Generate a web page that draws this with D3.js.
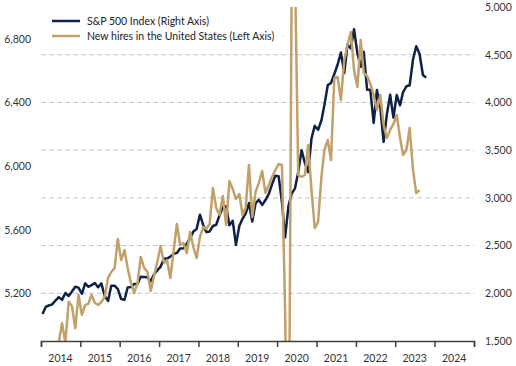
<!DOCTYPE html>
<html>
<head>
<meta charset="utf-8">
<script src="https://cdn.jsdelivr.net/npm/d3@7"></script>
<style>
  body { margin: 0; background: #fff; }
  text { font-family: Lato, "Liberation Sans", sans-serif; }
</style>
</head>
<body>
<svg id="chart" width="516" height="366"></svg>
<script>
// data: monthly, first month Jan 2014
const startYear = 2014;

// S&P 500 month-end level (right axis), Jan 2014 - Oct 2023
const sp500 = [
  1783, 1859, 1872, 1884, 1924, 1960, 1931, 2003, 1972, 2018, 2068, 2059,
  1995, 2105, 2068, 2086, 2107, 2063, 2104, 1972, 1920, 2079, 2080, 2044,
  1940, 1932, 2060, 2065, 2097, 2099, 2174, 2171, 2168, 2126, 2199, 2239,
  2279, 2364, 2363, 2384, 2412, 2423, 2470, 2472, 2519, 2575, 2648, 2674,
  2824, 2714, 2641, 2648, 2705, 2718, 2816, 2902, 2914, 2712, 2760, 2507,
  2704, 2784, 2834, 2946, 2752, 2942, 2980, 2926, 2977, 3038, 3141, 3231,
  3226, 2954, 2585, 2912, 3044, 3100, 3271, 3500, 3363, 3270, 3622, 3756,
  3714, 3811, 3973, 4181, 4204, 4298, 4395, 4523, 4308, 4605, 4567, 4766,
  4516, 4374, 4530, 4132, 4132, 3785, 4130, 3955, 3586, 3872, 4080, 3840,
  4077, 3970, 4109, 4169, 4180, 4450, 4589, 4508, 4288, 4260
];

// new hires in the US, thousands (left axis), Jan 2014 - Aug 2023
const hires = [
  4760, 4720, 4800, 4790, 4850, 4890, 5013, 4890, 5147, 5120, 4980, 5190,
  5065, 5126, 5133, 5190, 5140, 5126, 5145, 5177, 5296, 5334, 5359, 5541,
  5409, 5472, 5359, 5265, 5202, 5265, 5428, 5359, 5334, 5214, 5309, 5397,
  5497, 5390, 5409, 5296, 5460, 5636, 5504, 5516, 5453, 5585, 5491, 5422,
  5554, 5617, 5604, 5636, 5862, 5736, 5692, 5812, 5629, 5906, 5856, 5793,
  5824, 5692, 5736, 6007, 5680, 5837, 5893, 5969, 5830, 5880, 5931, 5975,
  6013, 6007, 5095, 3600, 7170, 7230, 5944, 5931, 5944, 6132, 5849, 5610,
  5648, 5930, 6101, 6164, 6038, 6553, 6560, 6415, 6666, 6761, 6843, 6604,
  6497, 6792, 6585, 6566, 6516, 6447, 6352, 6447, 6258, 6176, 6227, 6264,
  6321, 6176, 6069, 6101, 6239, 5975, 5830, 5849
];

// axis ticks
const yearLabels = ["2014","2015","2016","2017","2018","2019","2020","2021","2022","2023","2024"];
const leftTicks = [5200, 5600, 6000, 6400, 6800];
const rightTicks = [1500, 2000, 2500, 3000, 3500, 4000, 4500, 5000];
const gridTicks = [2000, 2500, 3000, 3500, 4000, 4500];

const legendNames = ["S&P 500 Index (Right Axis)", "New hires in the United States (Left Axis)"];

//////////////////////////
// layout
//////////////////////////
const navy = "#0f2145";
const gold = "#c2a06a";
const plot = {left: 41, right: 474, top: 7, bottom: 341};

const svg = d3.select("#chart");

//monthly dates, plotted mid-month
const monthDate = i => new Date(startYear, i, 15);

//scales
const x = d3.scaleTime()
  .domain([new Date(2014, 0, 1), new Date(2025, 0, 1)])
  .range([plot.left, plot.right]);

const yRight = d3.scaleLinear()
  .domain([1500, 5000])
  .range([plot.bottom, plot.top]);

const yLeft = d3.scaleLinear()
  .domain([4900, 7000])
  .range([plot.bottom, plot.top]);

//clip the lines to the plot box
svg.append("defs").append("clipPath")
  .attr("id", "plotClip")
  .append("rect")
  .attr("x", plot.left)
  .attr("y", plot.top)
  .attr("width", plot.right - plot.left)
  .attr("height", plot.bottom - plot.top);

//gridlines
svg.append("g")
  .selectAll("line")
  .data(gridTicks)
  .enter()
  .append("line")
  .attr("x1", plot.left)
  .attr("x2", plot.right)
  .attr("y1", d => yRight(d))
  .attr("y2", d => yRight(d))
  .attr("stroke", "#c4c4c4")
  .attr("stroke-width", 1)
  .attr("stroke-dasharray", "5,3");

//lines
const spLine = d3.line()
  .x((d, i) => x(monthDate(i)))
  .y(d => yRight(d));

const hiresLine = d3.line()
  .x((d, i) => x(monthDate(i)))
  .y(d => yLeft(d));

const lines = svg.append("g").attr("clip-path", "url(#plotClip)");

lines.append("path")
  .datum(sp500)
  .attr("d", spLine)
  .attr("fill", "none")
  .attr("stroke", navy)
  .attr("stroke-width", 2.5)
  .attr("stroke-linejoin", "round");

lines.append("path")
  .datum(hires)
  .attr("d", hiresLine)
  .attr("fill", "none")
  .attr("stroke", gold)
  .attr("stroke-width", 2.5)
  .attr("stroke-linejoin", "round");

//x axis
const xAxis = svg.append("g")
  .attr("transform", `translate(0,${plot.bottom})`)
  .call(d3.axisBottom(x)
    .ticks(d3.timeYear.every(1))
    .tickSize(6)
    .tickFormat(""));
xAxis.select(".domain").attr("stroke", "#404040").attr("stroke-width", 1.5);
xAxis.selectAll(".tick line").attr("stroke", "#404040").attr("stroke-width", 1.5);

//year labels sit between ticks
svg.append("g")
  .selectAll("text")
  .data(yearLabels)
  .enter()
  .append("text")
  .attr("x", d => x(new Date(+d, 6, 1)))
  .attr("y", 362)
  .attr("text-anchor", "middle")
  .attr("font-size", 10.5)
  .attr("fill", "#333")
  .text(d => d);

//left axis labels
const leftAxis = svg.append("g")
  .attr("transform", `translate(${plot.left - 7},0)`)
  .call(d3.axisLeft(yLeft)
    .tickValues(leftTicks)
    .tickSize(0)
    .tickFormat(d3.format(",")));
leftAxis.select(".domain").remove();
leftAxis.selectAll("text")
  .attr("font-size", 10.5)
  .attr("fill", "#333")
  .attr("font-family", "Lato, sans-serif");

//right axis labels
const rightAxis = svg.append("g")
  .attr("transform", `translate(${plot.right + 8},0)`)
  .call(d3.axisRight(yRight)
    .tickValues(rightTicks)
    .tickSize(0)
    .tickFormat(d3.format(",")));
rightAxis.select(".domain").remove();
rightAxis.selectAll("text")
  .attr("font-size", 10.5)
  .attr("fill", "#333")
  .attr("font-family", "Lato, sans-serif");

//legend
const legend = svg.append("g")
  .selectAll("g")
  .data(legendNames)
  .enter()
  .append("g")
  .attr("transform", (d, i) => `translate(52,${21 + i * 15})`);

legend.append("line")
  .attr("x1", 0)
  .attr("x2", 28)
  .attr("stroke", (d, i) => i === 0 ? navy : gold)
  .attr("stroke-width", 2.5);

legend.append("text")
  .attr("x", 35)
  .attr("y", 4)
  .attr("font-size", 10.5)
  .attr("fill", "#222")
  .text(d => d);
</script>
</body>
</html>
